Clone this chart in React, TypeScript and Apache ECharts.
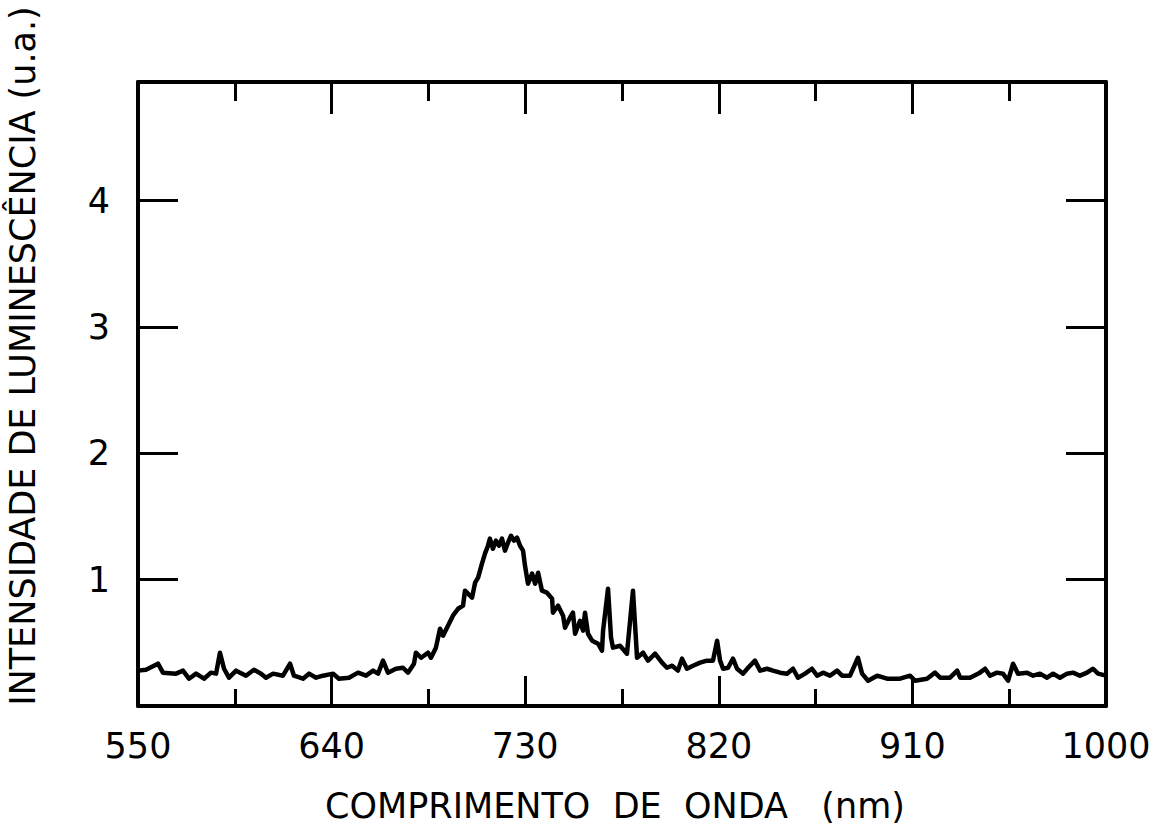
import { useEffect, useRef } from "react";
import * as echarts from "echarts";

// Wavelength (nm) and luminescence intensity (a.u.)
const wavelengths = [
  550.0, 553.7, 559.3, 561.6, 567.7, 570.9, 573.7, 577.0, 580.7, 583.9, 586.3, 588.1, 590.0, 592.3,
  595.6, 600.2, 603.9, 607.2, 609.5, 612.8, 617.4, 620.7, 622.5, 626.7, 629.5, 632.8, 636.0, 640.7,
  643.4, 648.1, 652.3, 656.0, 659.3, 661.6, 663.9, 666.2, 669.9, 673.2, 675.5, 678.3, 679.2, 681.6,
  684.8, 686.2, 688.5, 690.4, 691.8, 694.1, 696.4, 698.8, 701.1, 702.0, 703.4, 705.3, 706.7, 708.1,
  709.9, 711.3, 712.7, 713.6, 715.0, 716.4, 717.8, 719.2, 720.6, 722.0, 723.4, 724.8, 726.2, 727.6,
  729.0, 729.9, 731.3, 733.2, 734.6, 736.0, 737.8, 740.1, 742.5, 742.9, 745.3, 747.6, 748.5, 750.8,
  752.2, 753.2, 755.5, 756.9, 757.8, 759.2, 761.1, 763.9, 765.7, 766.2, 768.5, 769.9, 770.8, 774.1,
  777.3, 780.1, 782.0, 784.8, 787.1, 790.4, 793.6, 795.9, 798.3, 801.0, 802.9, 805.2, 808.0, 811.3,
  814.5, 817.3, 819.2, 820.6, 822.0, 824.3, 826.6, 828.5, 831.3, 833.6, 836.8, 839.2, 842.4, 845.2,
  848.5, 851.7, 854.5, 856.8, 860.1, 863.3, 865.7, 868.5, 871.7, 875.0, 877.3, 881.0, 884.7, 886.6,
  889.4, 893.6, 898.2, 904.3, 908.9, 911.2, 916.8, 920.5, 922.9, 927.5, 930.8, 932.2, 936.8, 941.4,
  943.8, 946.1, 949.3, 952.1, 954.5, 956.8, 959.1, 963.3, 966.1, 969.3, 972.6, 975.4, 978.6, 981.9,
  984.7, 987.9, 991.2, 994.0, 996.3, 1000.0,
];

const intensities = [
  0.280, 0.287, 0.335, 0.264, 0.256, 0.280, 0.216, 0.256, 0.216, 0.264, 0.256, 0.422, 0.295, 0.224,
  0.280, 0.240, 0.287, 0.256, 0.224, 0.256, 0.240, 0.335, 0.240, 0.216, 0.256, 0.224, 0.240, 0.256,
  0.216, 0.224, 0.264, 0.240, 0.280, 0.256, 0.359, 0.264, 0.295, 0.303, 0.264, 0.335, 0.422, 0.382,
  0.422, 0.382, 0.462, 0.612, 0.557, 0.636, 0.715, 0.770, 0.794, 0.913, 0.889, 0.858, 0.976, 1.016,
  1.127, 1.206, 1.269, 1.325, 1.245, 1.309, 1.269, 1.325, 1.230, 1.293, 1.348, 1.309, 1.333, 1.269,
  1.230, 1.111, 0.968, 1.048, 0.968, 1.055, 0.913, 0.897, 0.850, 0.739, 0.794, 0.715, 0.620, 0.699,
  0.739, 0.572, 0.675, 0.596, 0.739, 0.572, 0.517, 0.493, 0.438, 0.596, 0.929, 0.541, 0.462, 0.477,
  0.414, 0.913, 0.382, 0.422, 0.359, 0.414, 0.343, 0.303, 0.319, 0.280, 0.375, 0.295, 0.319, 0.343,
  0.359, 0.359, 0.517, 0.359, 0.295, 0.303, 0.375, 0.295, 0.256, 0.303, 0.359, 0.280, 0.295, 0.280,
  0.264, 0.256, 0.295, 0.224, 0.256, 0.295, 0.240, 0.264, 0.240, 0.280, 0.240, 0.240, 0.382, 0.256,
  0.200, 0.240, 0.216, 0.216, 0.240, 0.200, 0.216, 0.264, 0.224, 0.224, 0.280, 0.224, 0.224, 0.264,
  0.295, 0.240, 0.264, 0.256, 0.200, 0.335, 0.256, 0.264, 0.240, 0.256, 0.224, 0.256, 0.224, 0.256,
  0.264, 0.240, 0.264, 0.295, 0.256, 0.240,
];

const xTickLabels = [550, 640, 730, 820, 910, 1000];
const yTickLabels = [1, 2, 3, 4];

const xTitle = "COMPRIMENTO  DE  ONDA   (nm)";
const yTitle = "INTENSIDADE DE LUMINESCÊNCIA (u.a.)";

const FONT = '"DejaVu Sans", "Noto Sans", sans-serif';

export default function App() {
  const ref = useRef<HTMLDivElement>(null);

  useEffect(() => {
    if (!ref.current) return;
    const chart = echarts.init(ref.current, undefined, { renderer: "svg" });
    const data = wavelengths.map((w, i) => [w, intensities[i]]);
    const black = "#000";

    const baseX = {
      type: "value" as const,
      min: 550,
      max: 1000,
      interval: 90,
      splitLine: { show: false },
      minorSplitLine: { show: false },
      axisLine: { show: true, onZero: false, lineStyle: { color: black, width: 4 } },
    };
    const baseY = {
      type: "value" as const,
      min: 0,
      max: 4.94,
      interval: 1,
      splitLine: { show: false },
      axisLine: { show: true, onZero: false, lineStyle: { color: black, width: 4 } },
      axisTick: { show: true, inside: true, length: 40, lineStyle: { color: black, width: 3 } },
    };

    chart.setOption({
      animation: false,
      backgroundColor: "#ffffff",
      grid: { left: 138, right: 62, top: 82, bottom: 128, containLabel: false },
      xAxis: [
        {
          ...baseX,
          position: "bottom",
          axisTick: { show: true, inside: true, length: 30, lineStyle: { color: black, width: 3 } },
          minorTick: { show: true, splitNumber: 2, length: 17, lineStyle: { color: black, width: 3 } },
          axisLabel: {
            show: true,
            margin: 22,
            color: black,
            fontFamily: FONT,
            fontSize: 35,
            formatter: (v: number) => (xTickLabels.includes(Math.round(v)) ? String(Math.round(v)) : ""),
          },
        },
        {
          ...baseX,
          position: "top",
          axisTick: { show: true, inside: true, length: 32, lineStyle: { color: black, width: 3 } },
          minorTick: { show: true, splitNumber: 2, length: 19, lineStyle: { color: black, width: 3 } },
          axisLabel: { show: false },
        },
      ],
      yAxis: [
        {
          ...baseY,
          position: "left",
          axisLabel: {
            show: true,
            margin: 28,
            color: black,
            fontFamily: FONT,
            fontSize: 35,
            formatter: (v: number) => (yTickLabels.includes(v) ? String(v) : ""),
          },
        },
        {
          ...baseY,
          position: "right",
          axisLabel: { show: false },
        },
      ],
      graphic: [
        {
          type: "text",
          x: 615,
          y: 806,
          style: {
            text: xTitle,
            fill: black,
            font: `35px ${FONT}`,
            align: "center",
            verticalAlign: "middle",
            textAlign: "center",
            textVerticalAlign: "middle",
          },
        },
        {
          type: "text",
          x: 23,
          y: 356,
          rotation: Math.PI / 2,
          style: {
            text: yTitle,
            fill: black,
            font: `35px ${FONT}`,
            align: "center",
            verticalAlign: "middle",
            textAlign: "center",
            textVerticalAlign: "middle",
          },
        },
      ],
      series: [
        {
          type: "line",
          xAxisIndex: 0,
          yAxisIndex: 0,
          data,
          symbol: "none",
          showSymbol: false,
          lineStyle: { color: black, width: 4.5, join: "round" },
        },
      ],
    });

    return () => chart.dispose();
  }, []);

  return (
    <div
      ref={ref}
      style={{ position: "absolute", left: 0, top: 0, width: 1168, height: 834, background: "#fff" }}
    />
  );
}
